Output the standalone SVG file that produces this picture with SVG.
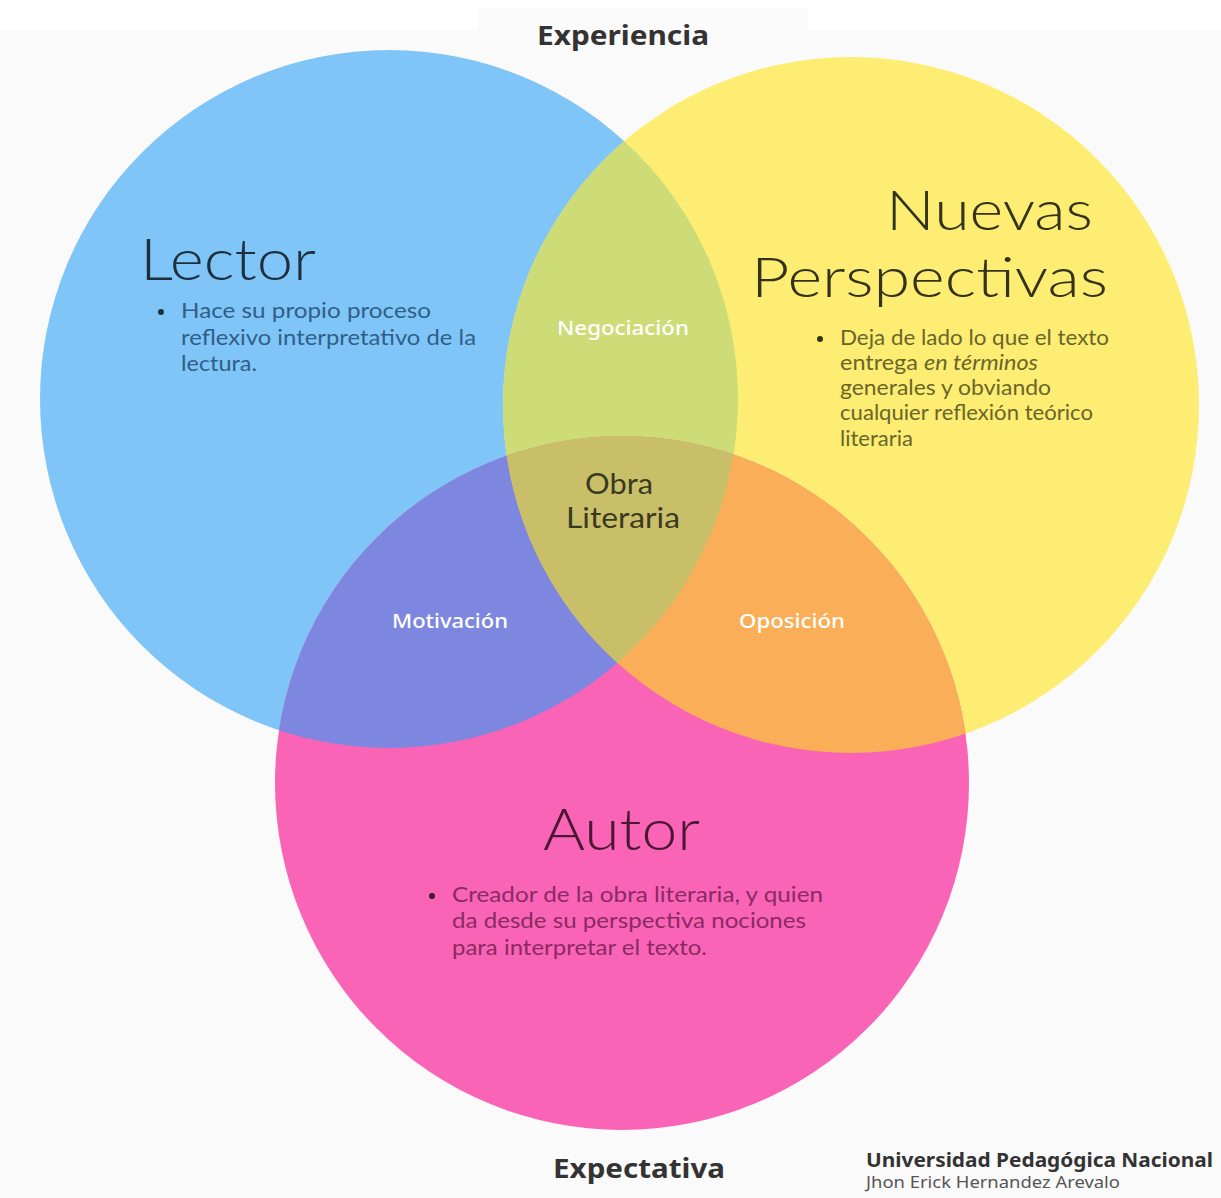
<svg xmlns="http://www.w3.org/2000/svg" width="1221" height="1198" viewBox="0 0 1221 1198">
<defs>
<clipPath id="cB"><circle cx="389" cy="399" r="349"/></clipPath>
<clipPath id="cY"><circle cx="851" cy="405" r="348"/></clipPath>
<style>
.title{font-family:"Lato","Noto Sans",sans-serif;font-weight:300;}
.mid{font-family:"Lato","Noto Sans",sans-serif;font-weight:400;font-size:29px;fill:#3a3a1f;}
.body{font-family:"Lato","Open Sans",sans-serif;font-size:21px;}
.lbl{font-family:"Noto Sans","Open Sans",sans-serif;font-size:19px;font-weight:500;fill:#ffffff;}
.head{font-family:"Noto Sans","Open Sans",sans-serif;font-size:27px;font-weight:700;fill:#333333;}
</style>
</defs>
<rect width="1221" height="1198" fill="#fafafa"/>
<rect x="0" y="0" width="1221" height="30" fill="#ffffff"/>
<rect x="478" y="8" width="330" height="24" fill="#fbfbfb"/>

<g id="circles">
<circle cx="389" cy="399" r="349" fill="#80c5f7"/>
<circle cx="851" cy="405" r="348" fill="#fded73"/>
<circle cx="622" cy="783" r="347" fill="#f964b7"/>
<g clip-path="url(#cB)"><circle cx="851" cy="405" r="348" fill="#cddc76"/></g>
<g clip-path="url(#cB)"><circle cx="622" cy="783" r="347" fill="#7e87e0"/></g>
<g clip-path="url(#cY)"><circle cx="622" cy="783" r="347" fill="#faae57"/></g>
<g clip-path="url(#cB)"><g clip-path="url(#cY)"><circle cx="622" cy="783" r="347" fill="#c9bf69"/></g></g>
</g>

<g id="experiencia"><text class="head" x="537" y="45" textLength="172" lengthAdjust="spacingAndGlyphs">Experiencia</text></g>

<g id="lector">
<text class="title" x="140" y="280" font-size="58" fill="#1d2f3f" textLength="176" lengthAdjust="spacingAndGlyphs">Lector</text>
<circle cx="161" cy="312" r="3" fill="#1d2f3f"/>
<g class="body" fill="#2f5f88">
<text x="181" y="318" textLength="250" lengthAdjust="spacingAndGlyphs">Hace su propio proceso</text>
<text x="181" y="345" textLength="295" lengthAdjust="spacingAndGlyphs">reflexivo interpretativo de la</text>
<text x="181" y="371" textLength="76" lengthAdjust="spacingAndGlyphs">lectura.</text>
</g>
</g>

<g id="nuevas">
<text class="title" x="886" y="230" font-size="55" fill="#33321a" textLength="207" lengthAdjust="spacingAndGlyphs">Nuevas</text>
<text class="title" x="751" y="297" font-size="55" fill="#33321a" textLength="357" lengthAdjust="spacingAndGlyphs">Perspectivas</text>
<circle cx="820" cy="339" r="3" fill="#33321a"/>
<g class="body" fill="#6a6629" font-size="20">
<text x="840" y="345" textLength="269" lengthAdjust="spacingAndGlyphs">Deja de lado lo que el texto</text>
<text x="840" y="370" textLength="198" lengthAdjust="spacingAndGlyphs">entrega <tspan font-style="italic">en términos</tspan></text>
<text x="840" y="395" textLength="211" lengthAdjust="spacingAndGlyphs">generales y obviando</text>
<text x="840" y="420" textLength="253" lengthAdjust="spacingAndGlyphs">cualquier reflexión teórico</text>
<text x="840" y="446" textLength="73" lengthAdjust="spacingAndGlyphs">literaria</text>
</g>
</g>

<g id="negociacion"><text class="lbl" x="557" y="335" textLength="132" lengthAdjust="spacingAndGlyphs">Negociación</text></g>
<g id="obra">
<text class="mid" x="585" y="494" textLength="68" lengthAdjust="spacingAndGlyphs">Obra</text>
<text class="mid" x="566" y="528" textLength="114" lengthAdjust="spacingAndGlyphs">Literaria</text>
</g>
<g id="motivacion"><text class="lbl" x="392" y="628" textLength="116" lengthAdjust="spacingAndGlyphs">Motivación</text></g>
<g id="oposicion"><text class="lbl" x="739" y="628" textLength="106" lengthAdjust="spacingAndGlyphs">Oposición</text></g>

<g id="autor">
<text class="title" x="543" y="850" font-size="58" fill="#4a1733" textLength="157" lengthAdjust="spacingAndGlyphs">Autor</text>
<circle cx="432" cy="896" r="3" fill="#4a1733"/>
<g class="body" fill="#8b2a62">
<text x="452" y="902" textLength="371" lengthAdjust="spacingAndGlyphs">Creador de la obra literaria, y quien</text>
<text x="452" y="928" textLength="354" lengthAdjust="spacingAndGlyphs">da desde su perspectiva nociones</text>
<text x="452" y="955" textLength="255" lengthAdjust="spacingAndGlyphs">para interpretar el texto.</text>
</g>
</g>

<g id="expectativa"><text class="head" x="553" y="1178" textLength="172" lengthAdjust="spacingAndGlyphs">Expectativa</text></g>

<g id="firma">
<text x="866" y="1167" font-family="'Noto Sans','Open Sans',sans-serif" font-size="19" font-weight="700" fill="#333333" textLength="347" lengthAdjust="spacingAndGlyphs">Universidad Pedagógica Nacional</text>
<text x="866" y="1188" font-family="'Noto Sans','Open Sans',sans-serif" font-size="16" fill="#555555" textLength="254" lengthAdjust="spacingAndGlyphs">Jhon Erick Hernandez Arevalo</text>
</g>
</svg>
